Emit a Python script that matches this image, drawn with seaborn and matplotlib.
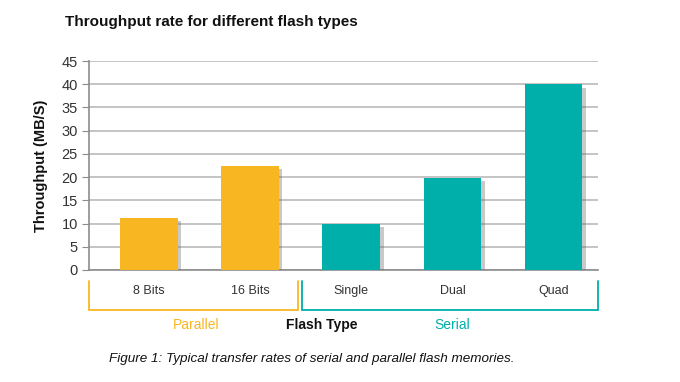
import numpy as np
import pandas as pd
import seaborn as sns
import matplotlib.pyplot as plt
import matplotlib.patheffects as pe
import matplotlib.transforms as mtransforms

# --- datos ---
flash_types = ['8 Bits', '16 Bits', 'Single', 'Dual', 'Quad']
groups = ['Parallel', 'Parallel', 'Serial', 'Serial', 'Serial']
throughput = [11.2, 22.5, 9.9, 19.9, 40.0]
y_ticks = [0, 5, 10, 15, 20, 25, 30, 35, 40, 45]

orange = '#F9B623'
teal = '#00AFA9'
palette = {'Parallel': orange, 'Serial': teal}

df = pd.DataFrame({'tipo': flash_types, 'grupo': groups, 'mbps': throughput})

sns.set_style('white')
plt.rcParams['font.family'] = ['Liberation Sans', 'DejaVu Sans']

fig = plt.figure(figsize=(6.8, 3.82), dpi=100)
ax = fig.add_axes([0.131, 0.2932, 0.748, 0.547])

sns.barplot(data=df, x='tipo', y='mbps', hue='grupo', palette=palette,
            dodge=False, width=0.57, legend=False, ax=ax, zorder=3,
            saturation=1, linewidth=0)

# sombra de las barras
for bar in ax.patches:
    bar.set_path_effects([pe.SimplePatchShadow(offset=(2.5, -2.5), shadow_rgbFace='#666666', alpha=0.35),
                          pe.Normal()])

ax.set_xlim(-0.593, 4.437)
ax.set_ylim(0, 45)
ax.set_yticks(y_ticks)
ax.yaxis.grid(True, color='#b4b4b4', linewidth=1.1, zorder=0)
ax.set_axisbelow(True)

for s in ['top', 'right']:
    ax.spines[s].set_visible(False)
ax.spines['left'].set_color('#8c8c8c')
ax.spines['bottom'].set_color('#8c8c8c')
ax.spines['left'].set_linewidth(1.2)
ax.spines['bottom'].set_linewidth(1.2)

ax.tick_params(axis='y', length=5, color='#8c8c8c', labelsize=10.5, labelcolor='#333333', pad=3, left=True)
ax.tick_params(axis='x', length=0, labelsize=9, labelcolor='#333333', pad=11)

ax.set_xlabel('')
ax.set_ylabel('Throughput (MB/S)', fontsize=10.5, fontweight='bold', labelpad=10, color='#111111')

# corchetes de grupo
trans = mtransforms.blended_transform_factory(ax.transData, fig.transFigure)
y_top, y_bot = 0.2644, 0.1885
for x0, x1, col in [(-0.593, 1.472, orange), (1.512, 4.437, teal)]:
    ax.plot([x0, x0, x1, x1], [y_top, y_bot, y_bot, y_top], color=col, lw=1.3,
            transform=trans, clip_on=False, solid_joinstyle='miter')

ax.text(0.464, 0.149, 'Parallel', color=orange, fontsize=10, ha='center', va='center', transform=trans)
ax.text(1.71, 0.149, 'Flash Type', color='#111111', fontsize=10, fontweight='bold',
        ha='center', va='center', transform=trans)
ax.text(3.0, 0.149, 'Serial', color=teal, fontsize=10, ha='center', va='center', transform=trans)

fig.text(0.096, 0.942, 'Throughput rate for different flash types', fontsize=11,
         fontweight='bold', ha='left', va='center', color='#111111')

fig.text(0.459, 0.06, 'Figure 1: Typical transfer rates of serial and parallel flash memories.',
         fontsize=9.7, style='italic', ha='center', va='center', color='#111111')

fig.savefig('out.png', dpi=100)
